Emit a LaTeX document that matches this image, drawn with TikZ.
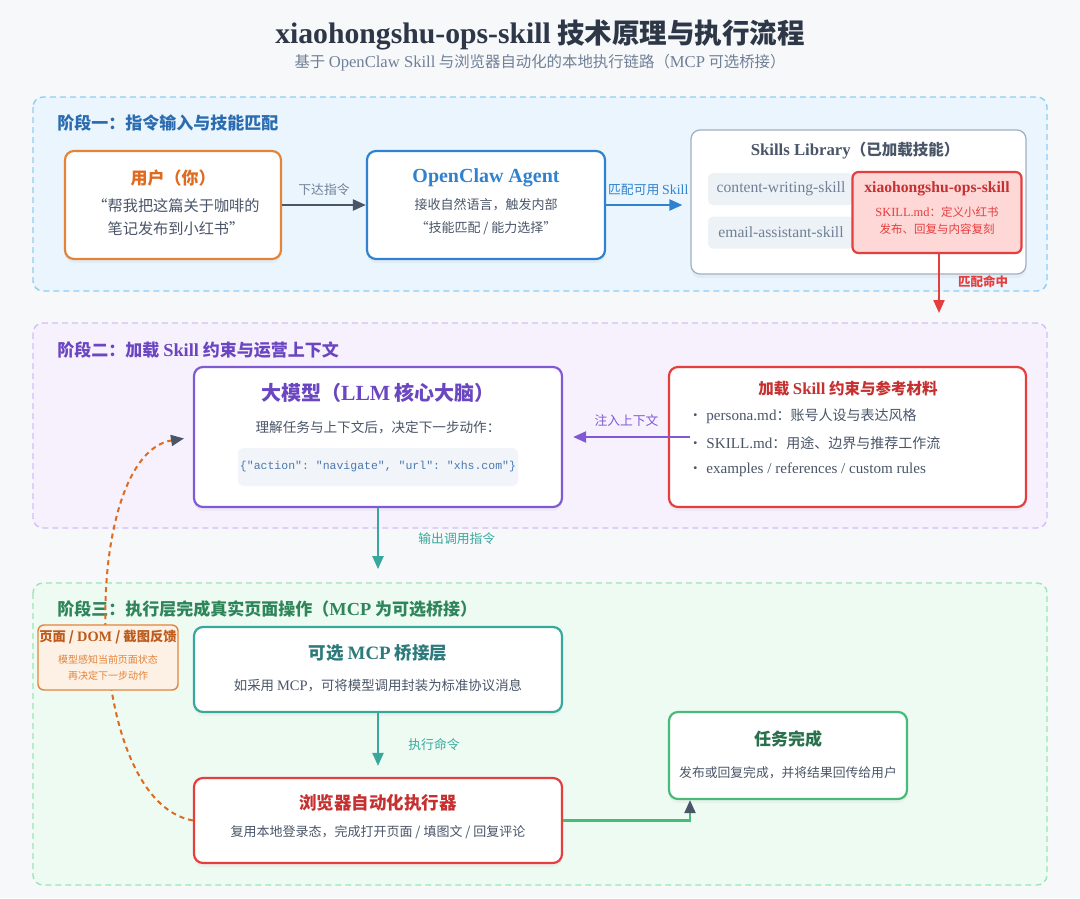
\documentclass[tikz,border=0pt]{standalone}
\usepackage{fontspec}
\setmainfont{Noto Sans CJK SC}
\newfontfamily\lat[Scale=1.08]{Liberation Serif}
\setmonofont{Liberation Mono}
\usetikzlibrary{arrows.meta,shadows,calc}

\definecolor{cBg}{HTML}{F6F8FA}
\definecolor{cDark}{HTML}{2D3748}
\definecolor{cText}{HTML}{4A5568}
\definecolor{cMute}{HTML}{718096}
\definecolor{cPill}{HTML}{EDF2F7}
\definecolor{cGrayB}{HTML}{A0AEC0}
\definecolor{cBlue}{HTML}{3182CE}
\definecolor{cBlueD}{HTML}{2B6CB0}
\definecolor{cBlueP}{HTML}{EAF5FD}
\definecolor{cBlueL}{HTML}{90CDF4}
\definecolor{cOrange}{HTML}{E2843A}
\definecolor{cOrangeD}{HTML}{DD6B20}
\definecolor{cOrangeP}{HTML}{FDF1E6}
\definecolor{cRed}{HTML}{E53E3E}
\definecolor{cRedD}{HTML}{C53030}
\definecolor{cRedL}{HTML}{FED7D7}
\definecolor{cPurple}{HTML}{805AD5}
\definecolor{cPurpleD}{HTML}{6B46C1}
\definecolor{cPurpleP}{HTML}{F7F1FD}
\definecolor{cPurpleL}{HTML}{D6BCFA}
\definecolor{cTeal}{HTML}{38A89D}
\definecolor{cTealD}{HTML}{2C7A7B}
\definecolor{cGreen}{HTML}{48BB78}
\definecolor{cGreenD}{HTML}{2F855A}
\definecolor{cGreenP}{HTML}{EEFBF3}
\definecolor{cGreenL}{HTML}{9AE6B4}
\definecolor{cCode}{HTML}{4C78B0}
\newcommand\fsz[2]{\fontsize{#1}{#2}\selectfont}

\begin{document}
\begin{tikzpicture}[x=1pt,y=-1pt,line width=2.2pt,>={Triangle[length=13pt,width=11pt]},
  panel/.style={draw=#1,dash pattern=on 6pt off 4pt,rounded corners=10pt,line width=1.4pt},
  card/.style={draw=#1,fill=white,rounded corners=9pt,line width=2.2pt,
    drop shadow={opacity=.07,shadow xshift=0pt,shadow yshift=-4pt}},
  pill/.style={fill=cPill,rounded corners=5pt,inner sep=0pt},
  hd/.style={font=\bfseries\fsz{17}{20},anchor=west},
  ttl/.style={font=\bfseries\fsz{17}{20}},
  txt/.style={font=\fsz{13.5}{23},text=cText,align=center},
  lbl/.style={font=\fsz{12.8}{16}}]
  \useasboundingbox (0,0) rectangle (1080,898);
  \fill[cBg] (0,0) rectangle (1080,898);
  % titulo
  \node[font=\bfseries\fsz{27.5}{30},text=cDark] (title) at (540,35) {{\lat xiaohongshu-ops-skill} 技术原理与执行流程};
  \node[font=\fsz{15.4}{18},text=cMute] (sub) at (540,63) {基于 {\lat OpenClaw Skill} 与浏览器自动化的本地执行链路（{\lat MCP} 可选桥接）};
  % fases
  \draw[panel=cBlueL,fill=cBlueP] (33,97) rectangle (1047,291);
  \draw[panel=cPurpleL,fill=cPurpleP] (33,323) rectangle (1047,528);
  \draw[panel=cGreenL,fill=cGreenP] (33,583) rectangle (1047,885);
  \node[hd,text=cBlueD] (s1) at (53,123) {阶段一：指令输入与技能匹配};
  \node[hd,text=cPurpleD] (s2) at (53,350) {阶段二：加载 {\lat Skill} 约束与运营上下文};
  \node[hd,text=cGreenD] (s3) at (53,609) {阶段三：执行层完成真实页面操作（{\lat MCP} 为可选桥接）};

  % fase 1
  \node[card=cOrange,minimum width=216,minimum height=108] (user) at (173,205) {};
  \node[ttl,text=cOrangeD] (user-t) at (173,178) {用户（你）};
  \node[txt,font=\fsz{15.2}{23}] (user-b) at (176,217) {“帮我把这篇关于咖啡的\\笔记发布到小红书”};
  \node[card=cBlue,minimum width=238,minimum height=108] (agent) at (486,205) {};
  \node[ttl,text=cBlue,font=\lat\bfseries\fsz{18.5}{22}] (agent-t) at (486,178) {OpenClaw Agent};
  \node[txt,font=\fsz{13}{23}] (agent-b) at (486,217) {接收自然语言，触发内部\\“技能匹配 / 能力选择”};
  \node[draw=cGrayB,fill=white,rounded corners=9pt,line width=1.2pt,minimum width=335,minimum height=144,
    drop shadow={opacity=.07,shadow xshift=0pt,shadow yshift=-4pt}] (lib) at (858.5,202) {};
  \node[font=\bfseries\fsz{15.5}{18},text=cText] (lib-t) at (855,151) {{\lat Skills Library}（已加载技能）};
  \node[pill,minimum width=146,minimum height=32,text=cMute,font=\lat\fsz{14.5}{16}] (cw) at (781,189) {content-writing-skill};
  \node[pill,minimum width=146,minimum height=32,text=cMute,font=\lat\fsz{14.5}{16}] (ea) at (781,232.5) {email-assistant-skill};
  \node[draw=cRed,fill=cRedL,rounded corners=6pt,line width=2.2pt,minimum width=169,minimum height=81] (hit) at (937,212.5) {};
  \node[text=cRedD,font=\lat\bfseries\fsz{14.5}{16}] (hit-t) at (937,189) {xiaohongshu-ops-skill};
  \node[text=cRed,font=\fsz{11.5}{17},align=center] (hit-b) at (937,221) {{\lat SKILL.md}：定义小红书\\发布、回复与内容复刻};
  \coordinate (hitend) at ([xshift=2pt]hit.south |- 0,313);
  \draw[->,cText] (user) -- (agent) node[lbl,text=cMute,midway,above=5pt] (l1) {下达指令};
  \draw[->,cBlue,shorten >=8pt] (agent.east) -- (agent.east -| lib.west) node[lbl,text=cBlue,midway,above=5pt] (l2) {匹配可用 {\lat Skill}};
  \draw[->,cRed] ([xshift=2pt]hit.south) -- (hitend);
  \node[lbl,text=cRed,font=\bfseries\fsz{12.5}{16}] (l3) at (983,282) {匹配命中};

  % fase 2
  \node[card=cPurple,minimum width=368,minimum height=140] (llm) at (378,437) {};
  \node[ttl,text=cPurpleD,font=\bfseries\fsz{20}{24}] (llm-t) at (378,393) {大模型（{\lat LLM} 核心大脑）};
  \node[txt,font=\fsz{13.6}{18}] (llm-b) at (378,427) {理解任务与上下文后，决定下一步动作：};
  \node[pill,fill=cPill!80,minimum width=280,minimum height=38,text=cCode,font=\ttfamily\fsz{11.5}{14}] (code) at (378,467)
    {\{"action": "navigate", "url": "xhs.com"\}};
  \node[card=cRed,minimum width=357,minimum height=140] (cons) at (847.5,437) {};
  \node[text=cRedD,font=\bfseries\fsz{15.5}{18}] (cons-t) at (848,389) {加载 {\lat Skill} 约束与参考材料};
  \foreach \y/\s [count=\i] in {416/{{\lat persona.md}：账号人设与表达风格},
      443/{{\lat SKILL.md}：用途、边界与推荐工作流},
      470/{{\lat examples / references / custom rules}}}
    \node[anchor=west,text=cText,font=\fsz{14}{16}] (cons-\i) at (684,\y) {·\hspace{4pt}\s};
  \draw[->,cPurple,shorten >=10pt] ([xshift=22pt]cons.west) -- (llm.east) node[lbl,text=cPurple,midway,above=6pt] (l4) {注入上下文};
  \coordinate (llmend) at ($(llm.south)+(0,61)$);
  \draw[->,cTeal] (llm.south) -- (llmend) node[lbl,text=cTeal,midway,right=36pt] (l5) {输出调用指令};

  % fase 3
  \node[card=cTeal,minimum width=368,minimum height=85] (mcp) at (378,669.5) {};
  \node[ttl,text=cTealD,font=\bfseries\fsz{17.5}{20}] (mcp-t) at (378,653) {可选 {\lat MCP} 桥接层};
  \node[txt,font=\fsz{13.4}{18}] (mcp-b) at (378,686) {如采用 {\lat MCP}，可将模型调用封装为标准协议消息};
  \node[card=cRed,minimum width=368,minimum height=85] (exec) at (378,820.5) {};
  \node[ttl,text=cRedD,font=\bfseries\fsz{17.5}{20}] (exec-t) at (378,803) {浏览器自动化执行器};
  \node[txt,font=\fsz{13}{18}] (exec-b) at (378,832) {复用本地登录态，完成打开页面 / 填图文 / 回复评论};
  \node[card=cGreen,minimum width=238,minimum height=87] (done) at (788,755.5) {};
  \node[ttl,text=cGreenD!85!black] (done-t) at (788,739) {任务完成};
  \node[txt,font=\fsz{12.8}{18}] (done-b) at (788,773) {发布或回复完成，并将结果回传给用户};
  \draw[->,cTeal,shorten >=11pt] (mcp.south) -- (exec.north) node[lbl,text=cTeal,midway,right=26pt] (l6) {执行命令};
  \draw[cGreen,-{Triangle[length=13pt,width=11pt,color=cText]}] (exec.east) -| ([xshift=-98pt]done.south);
  % retroalimentacion
  \draw[cOrangeD,line width=2pt,dash pattern=on 5pt off 4pt,shorten >=9pt,-{Triangle[length=13pt,width=11pt,color=cText]}]
    (exec.west) .. controls (80,800) and (80,455) .. (llm.west);
  \node[draw=cOrange,fill=cOrangeP,rounded corners=6pt,line width=1.4pt,minimum width=140,minimum height=65] (fb) at (108,657.5) {};
  \node[text=cOrangeD!85!black,font=\bfseries\fsz{13.3}{16}] (fb-t) at (108,637) {页面 / {\lat DOM} / 截图反馈};
  \node[text=cOrange,font=\fsz{10}{16},align=center] (fb-b) at (108,668) {模型感知当前页面状态\\再决定下一步动作};
\end{tikzpicture}
\end{document}
